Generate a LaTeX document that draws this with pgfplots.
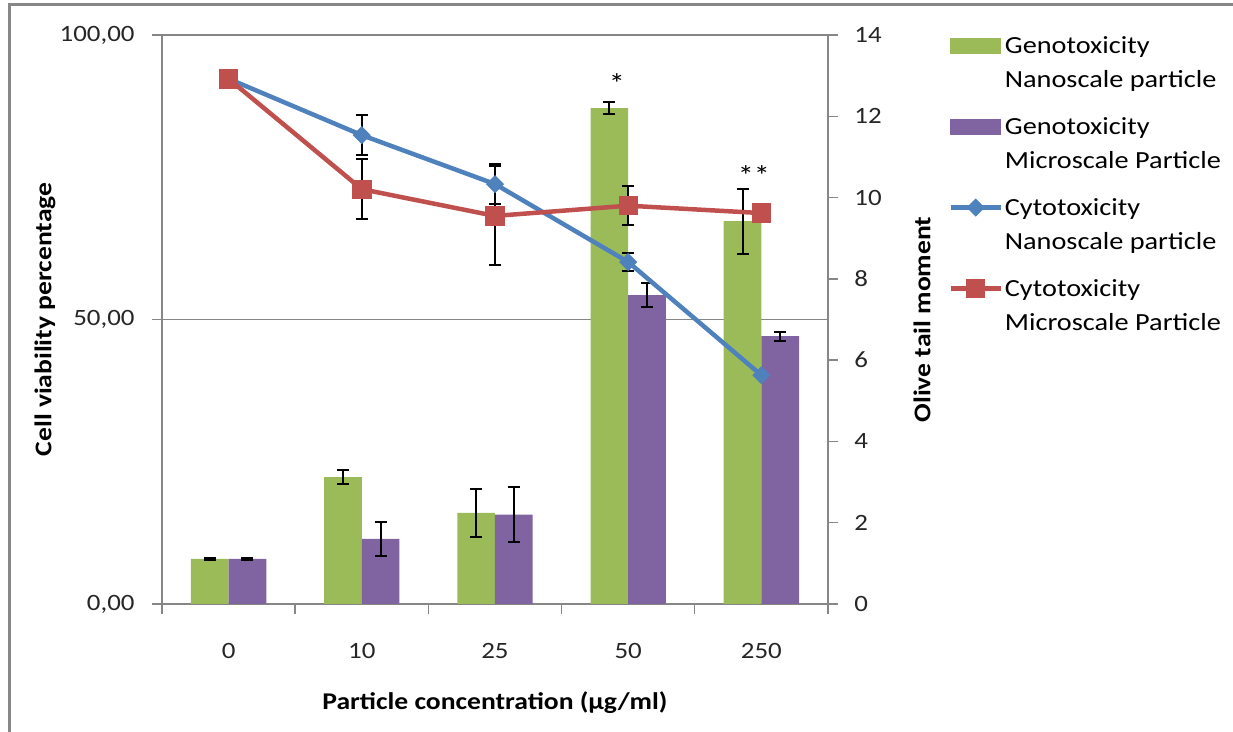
\documentclass[border=0pt]{standalone}
\usepackage{fontspec}
\setmainfont{Carlito}[FakeStretch=1.15]
\usepackage{pgfplots}
\pgfplotsset{compat=1.18}

\definecolor{genonano}{HTML}{9BBB59}
\definecolor{genomicro}{HTML}{8064A2}
\definecolor{cytonano}{HTML}{4F81BD}
\definecolor{cytomicro}{HTML}{C0504D}
\definecolor{axisgray}{HTML}{868686}
\definecolor{labelgray}{HTML}{262626}
\definecolor{framegray}{HTML}{878787}

% shared placement: 1px of the reference = 0.5pt
\pgfplotsset{
  common/.style={
    at={(81pt,64pt)}, anchor=south west,
    scale only axis, width=333pt, height=284.5pt,
    xmin=-0.5, xmax=4.5, clip=false,
  },
  errs/.style={
    error bars/.cd, y dir=both, y explicit,
    error bar style={black, line width=1pt},
    error mark options={black, rotate=90, mark size=3pt, line width=1pt},
  },
}

\begin{document}
\fontsize{12}{14.4}\selectfont
\begin{tikzpicture}
\useasboundingbox (0,0) rectangle (616.5pt,366pt);
\draw[framegray, line width=1.5pt] (4.5pt,-2pt) -- (4.5pt,363.5pt) -- (620pt,363.5pt);

% left axis, grid and category axis
\begin{axis}[common,
  ymin=0, ymax=100,
  axis x line*=bottom, axis y line*=left,
  axis line style={-, draw=axisgray, line width=0.7pt},
  xtick={-0.5,0.5,1.5,2.5,3.5,4.5},
  xticklabels={0,10,25,50,250},
  x tick label as interval,
  ytick={0,50,100},
  yticklabels={{0,00},{50,00},{100,00}},
  ymajorgrids, grid style={draw=axisgray, line width=0.7pt},
  tick align=outside, major tick length=5pt,
  tick style={draw=axisgray, line width=0.7pt},
  ticklabel style={text=labelgray, font=\fontsize{11.7}{14}\selectfont},
  xticklabel style={anchor=center, yshift=-18.5pt},
  yticklabel style={anchor=east, inner sep=0pt, xshift=-8.5pt},
  xlabel={\bfseries Particle concentration (µg/ml)},
  xlabel style={at={(axis description cs:0.5,-0.174)}, anchor=center},
]
\node[rotate=90, anchor=center, font=\bfseries]
  at (axis description cs:-0.1757,0.5) {Cell viability percentage};
\end{axis}

% right axis: genotoxicity bars (olive tail moment), bars sit 0.1415 either side of each category
\begin{axis}[common,
  ymin=0, ymax=14,
  axis y line*=right, axis x line=none,
  axis line style={-, draw=axisgray, line width=0.7pt},
  ytick={0,2,4,6,8,10,12,14},
  yticklabels={0,2,4,6,8,10,12,14},
  tick align=outside, major tick length=5pt,
  tick style={draw=axisgray, line width=0.7pt},
  yticklabel style={anchor=west, inner sep=0pt, xshift=8pt, text=labelgray,
    font=\fontsize{11.7}{14}\selectfont},
  ylabel={\bfseries Olive tail moment},
  ylabel style={at={(axis description cs:1.1411,0.5)}, anchor=center},
]
\addplot[ybar, bar width=0.283, bar shift=0, fill=genonano, draw=none, errs]
  coordinates {(-0.1415,1.11) +- (0,0.02) (0.8585,3.12) +- (0,0.17) (1.8585,2.24) +- (0,0.59)
               (2.8585,12.20) +- (0,0.14) (3.8585,9.42) +- (0,0.80)};
\addplot[ybar, bar width=0.283, bar shift=0, fill=genomicro, draw=none, errs]
  coordinates {(0.1415,1.11) +- (0,0.02) (1.1415,1.60) +- (0,0.41) (2.1415,2.20) +- (0,0.68)
               (3.1415,7.60) +- (0,0.30) (4.1415,6.59) +- (0,0.11)};
\node[anchor=base, font=\fontsize{14}{16}\selectfont] at (axis cs:2.916,12.55) {*};
\node[anchor=base, font=\fontsize{14}{16}\selectfont] at (axis cs:3.944,10.29) {**};
\end{axis}

% cytotoxicity lines on the left scale, legend for all four series
\begin{axis}[common,
  ymin=0, ymax=100, hide axis,
  legend style={at={(axis description cs:1.1802,0.9982)}, anchor=north west,
    draw=none, fill=none, inner sep=0pt, nodes={inner sep=0pt},
    row sep=30.2pt, column sep=1pt, cells={anchor=base west},
    font=\fontsize{12.3}{14}\selectfont},
  legend image code/.code={
    \draw[mark repeat=2, mark phase=2, #1]
      plot coordinates {(0pt,3.8pt) (12.5pt,3.8pt) (25pt,3.8pt)};},
]
\addlegendimage{legend image code/.code={\fill[genonano] (0pt,0.15pt) rectangle (25pt,7.45pt);}}
\addlegendentry{\vtop{\baselineskip=17pt\hbox{Genotoxicity}\hbox{Nanoscale particle}}}
\addlegendimage{legend image code/.code={\fill[genomicro] (0pt,0.15pt) rectangle (25pt,7.45pt);}}
\addlegendentry{\vtop{\baselineskip=17pt\hbox{Genotoxicity}\hbox{Microscale Particle}}}

\addplot[cytonano, line width=2.25pt, mark=square*,
  mark options={rotate=45, mark size=3pt, line width=0.4pt, solid}, errs]
  coordinates {(0,92.3) (1,82.4) +- (0,3.5) (2,73.8) +- (0,3.5)
               (3,60.1) +- (0,1.6) (4,40.2)};
\addlegendentry{\vtop{\baselineskip=17pt\hbox{Cytotoxicity}\hbox{Nanoscale particle}}}
\addplot[cytomicro, line width=2.25pt, mark=square*,
  mark options={mark size=4.6pt, line width=0.4pt, solid}, errs]
  coordinates {(0,92.3) (1,72.9) +- (0,5.3) (2,68.2) +- (0,8.7)
               (3,70.0) +- (0,3.4) (4,68.7)};
\addlegendentry{\vtop{\baselineskip=17pt\hbox{Cytotoxicity}\hbox{Microscale Particle}}}
\end{axis}
\end{tikzpicture}
\end{document}
